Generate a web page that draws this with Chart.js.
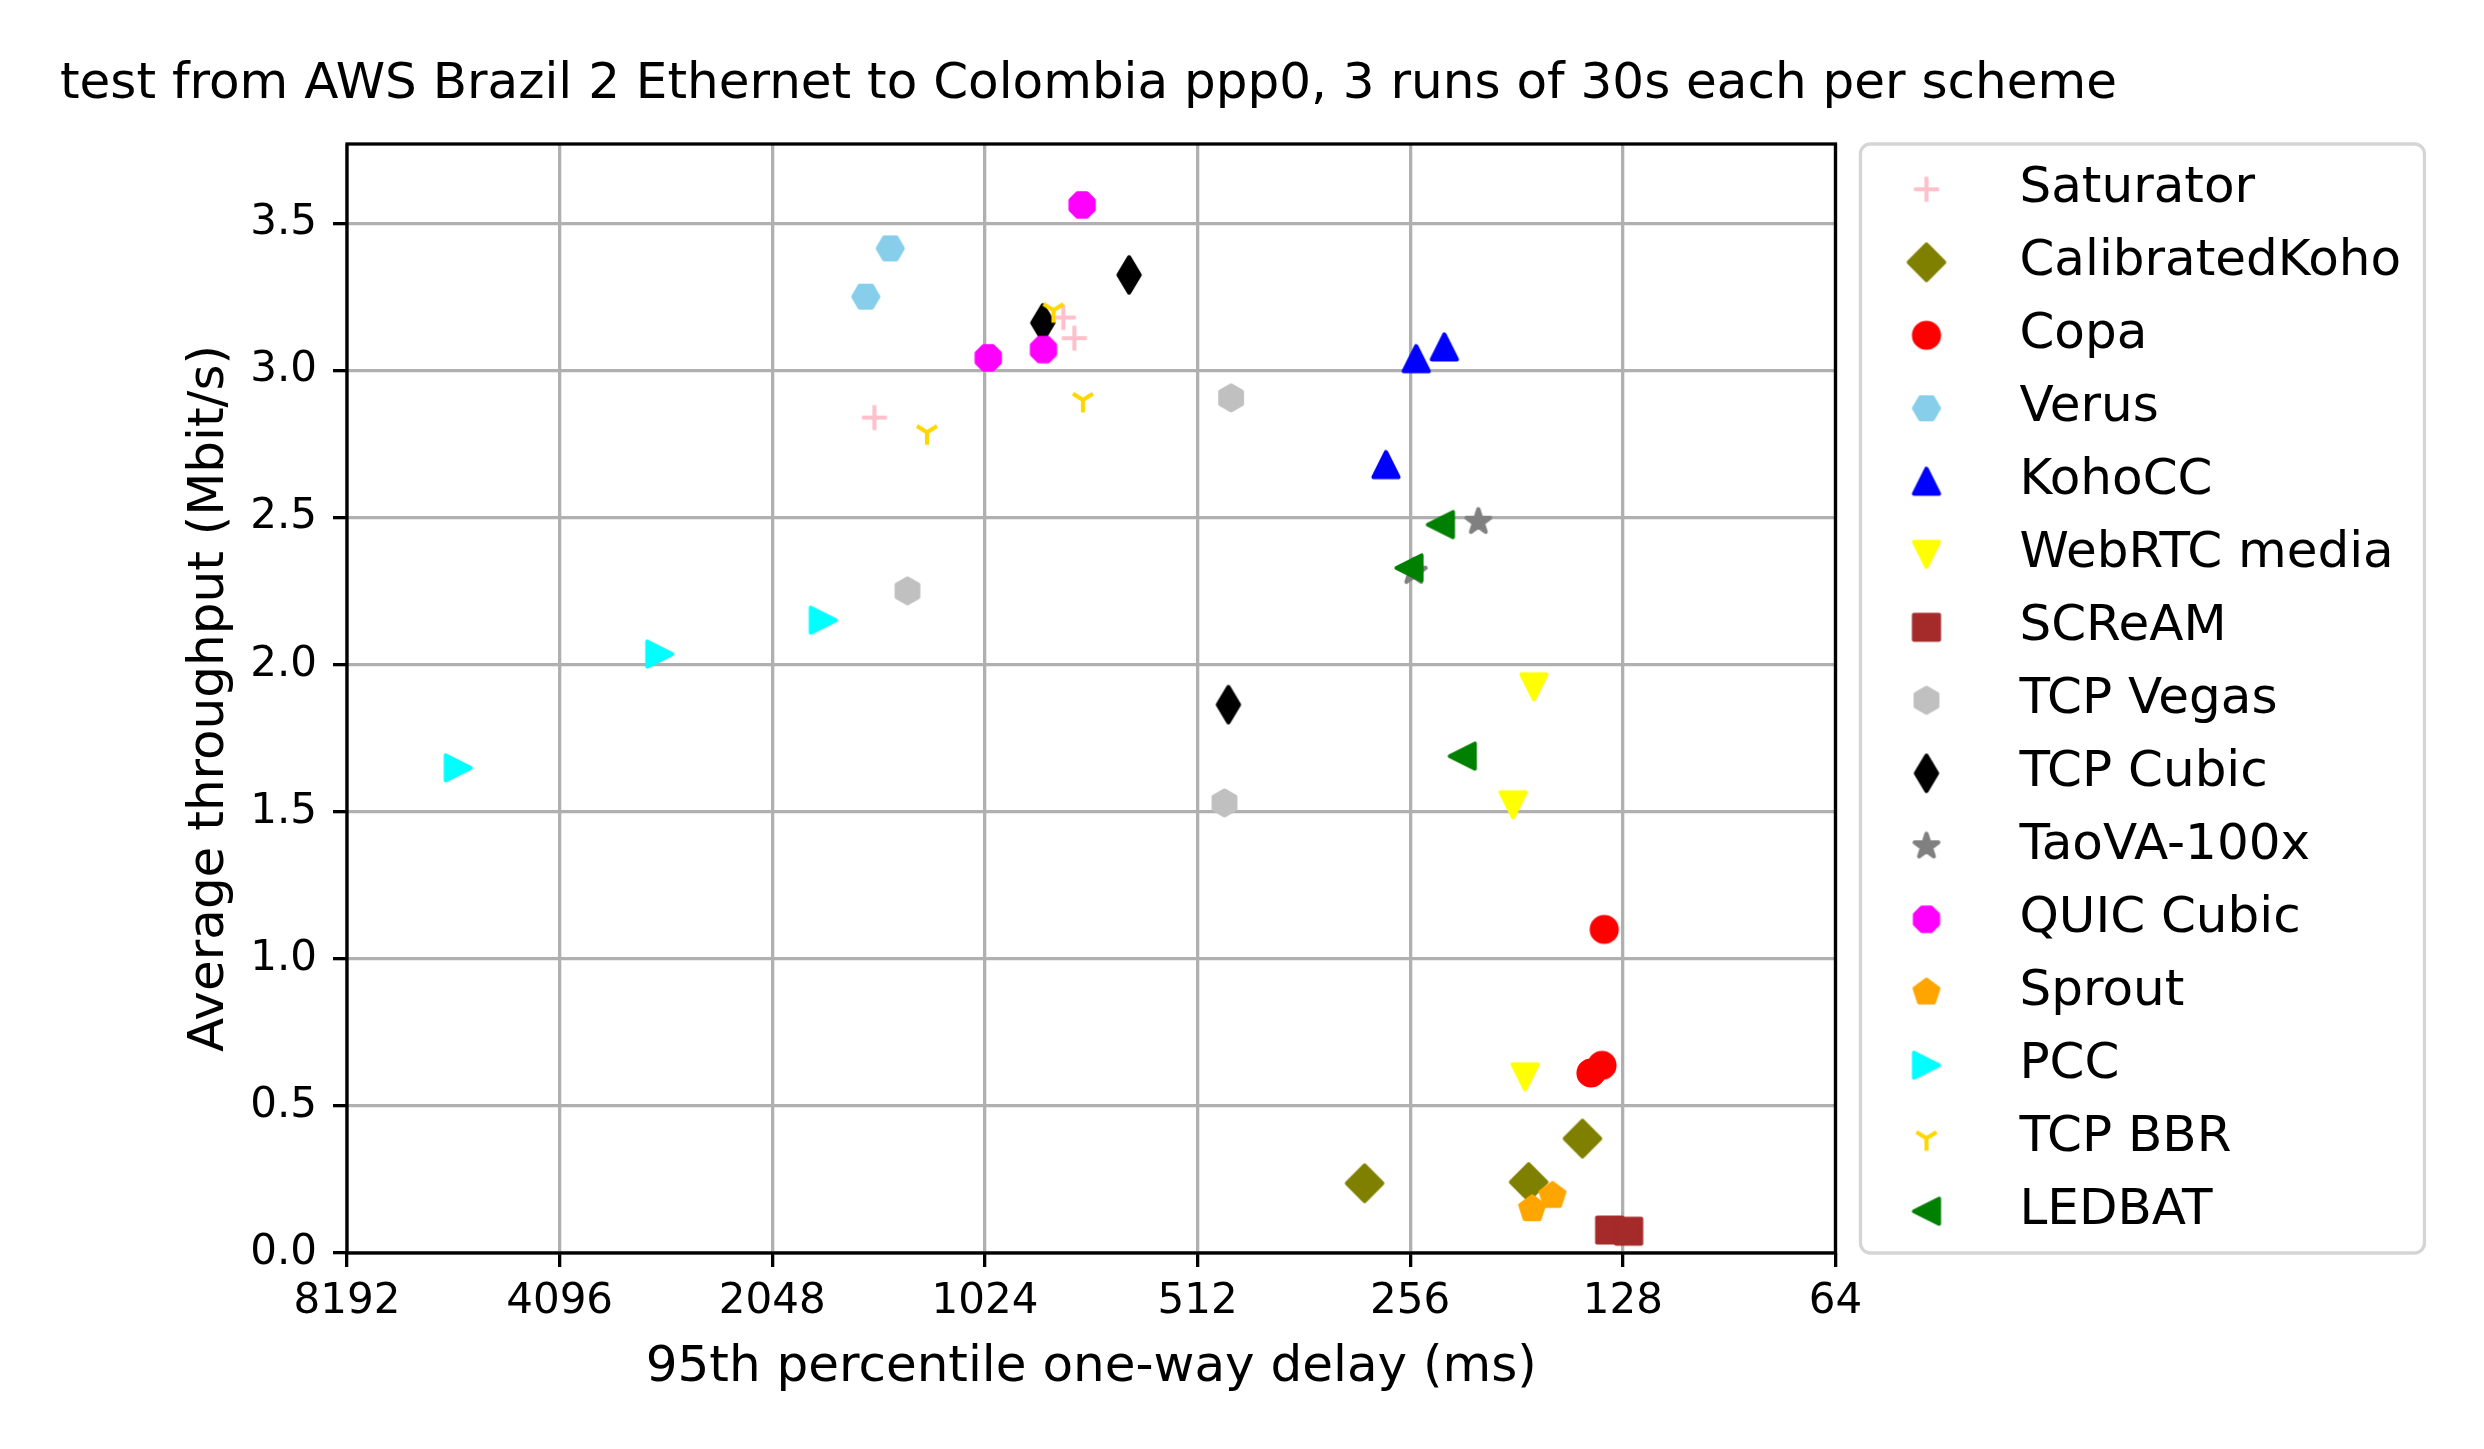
<!DOCTYPE html>
<html>
<head>
<meta charset="utf-8">
<title>Delay vs throughput</title>
<script src="https://cdn.jsdelivr.net/npm/chart.js@4.4.0/dist/chart.umd.min.js"></script>
<style>
  html, body { margin: 0; padding: 0; background: #fff; }
  #wrap { width: 2484px; height: 1449px; }
</style>
</head>
<body>
<div id="wrap"><canvas id="chart"></canvas></div>
<script>
// chart data
const chartTitle = "test from AWS Brazil 2 Ethernet to Colombia ppp0, 3 runs of 30s each per scheme";
const xLabel = "95th percentile one-way delay (ms)";
const yLabel = "Average throughput (Mbit/s)";
const xTicks = [8192, 4096, 2048, 1024, 512, 256, 128, 64];
const yMax = 3.77;

const schemes = ["Saturator", "CalibratedKoho", "Copa", "Verus", "KohoCC", "WebRTC media", "SCReAM",
    "TCP Vegas", "TCP Cubic", "TaoVA-100x", "QUIC Cubic", "Sprout", "PCC", "TCP BBR", "LEDBAT"];

// delay in ms, throughput in Mbit/s (one value per run)
const saturatorDelay = [1468, 793, 765];
const saturatorTput = [2.84, 3.18, 3.11];
const calibratedKohoDelay = [297, 174, 146];
const calibratedKohoTput = [0.237, 0.241, 0.389];
const copaDelay = [136, 137, 142];
const copaTput = [1.10, 0.638, 0.612];
const verusDelay = [1394, 1510];
const verusTput = [3.415, 3.251];
const kohoCCDelay = [251, 229, 277];
const kohoCCTput = [3.04, 3.08, 2.68];
const webrtcDelay = [171, 183, 176];
const webrtcTput = [1.925, 1.524, 0.599];
const screamDelay = [133.6, 125.6];
const screamTput = [0.078, 0.074];
const vegasDelay = [1318, 459, 469];
const vegasTput = [2.251, 2.907, 1.530];
const cubicDelay = [640, 848, 463];
const cubicTput = [3.325, 3.162, 1.864];
const taovaDelay = [205, 253];
const taovaTput = [2.486, 2.316];
const quicDelay = [746, 1013, 846];
const quicTput = [3.563, 3.043, 3.071];
const sproutDelay = [161, 172];
const sproutTput = [0.195, 0.150];
const pccDelay = [5700, 2955, 1734];
const pccTput = [1.649, 2.036, 2.151];
const bbrDelay = [819, 1237, 744];
const bbrTput = [3.205, 2.79, 2.90];
const ledbatDelay = [232, 257, 216];
const ledbatTput = [2.476, 2.329, 1.689];

const delays = [saturatorDelay, calibratedKohoDelay, copaDelay, verusDelay, kohoCCDelay, webrtcDelay, screamDelay,
    vegasDelay, cubicDelay, taovaDelay, quicDelay, sproutDelay, pccDelay, bbrDelay, ledbatDelay];
const tputs = [saturatorTput, calibratedKohoTput, copaTput, verusTput, kohoCCTput, webrtcTput, screamTput,
    vegasTput, cubicTput, taovaTput, quicTput, sproutTput, pccTput, bbrTput, ledbatTput];

const colors = ["pink", "olive", "red", "skyblue", "blue", "yellow", "brown",
    "silver", "black", "gray", "magenta", "orange", "cyan", "gold", "green"];
const markers = ["+", "D", "o", "H", "^", "v", "s", "h", "d", "*", "8", "p", ">", "1", "<"];

// marker size in px (6pt at 300 dpi) and edge width (1pt)
const MS = 25;
const EW = 4.17;

function regularPolygon(n, r, rotDeg, innerRatio) {
    const pts = [];
    const count = innerRatio ? n * 2 : n;
    for (let i = 0; i < count; i++) {
        const a = (-90 - rotDeg + i * 360 / count) * Math.PI / 180;
        const rr = innerRatio && i % 2 ? r * innerRatio : r;
        pts.push([rr * Math.cos(a), rr * Math.sin(a)]);
    }
    return pts;
}

// draws a matplotlib-like marker onto a small canvas
function makeMarker(shape, color) {
    const size = 56;
    const c = document.createElement("canvas");
    c.width = size;
    c.height = size;
    const ctx = c.getContext("2d");
    ctx.translate(size / 2, size / 2);
    ctx.fillStyle = color;
    ctx.strokeStyle = color;
    ctx.lineWidth = EW;
    ctx.lineJoin = "round";
    const h = MS / 2;
    let pts = null;

    if (shape === "+" || shape === "1") {
        ctx.beginPath();
        if (shape === "+") {
            ctx.moveTo(-h, 0); ctx.lineTo(h, 0);
            ctx.moveTo(0, -h); ctx.lineTo(0, h);
        } else {
            ctx.moveTo(0, 0); ctx.lineTo(0, h);
            ctx.moveTo(0, 0); ctx.lineTo(0.8 * h, -0.5 * h);
            ctx.moveTo(0, 0); ctx.lineTo(-0.8 * h, -0.5 * h);
        }
        ctx.stroke();
        return c;
    }
    if (shape === "o") {
        ctx.beginPath();
        ctx.arc(0, 0, h, 0, Math.PI * 2);
        ctx.fill();
        ctx.stroke();
        return c;
    }
    const dg = MS / Math.SQRT2;
    if (shape === "D") pts = [[0, -dg], [dg, 0], [0, dg], [-dg, 0]];
    if (shape === "d") pts = [[0, -dg], [0.6 * dg, 0], [0, dg], [-0.6 * dg, 0]];
    if (shape === "s") pts = [[-h, -h], [h, -h], [h, h], [-h, h]];
    if (shape === "^") pts = [[0, -h], [h, h], [-h, h]];
    if (shape === "v") pts = [[0, h], [h, -h], [-h, -h]];
    if (shape === "<") pts = [[-h, 0], [h, -h], [h, h]];
    if (shape === ">") pts = [[h, 0], [-h, -h], [-h, h]];
    if (shape === "h") pts = regularPolygon(6, h, 0);
    if (shape === "H") pts = regularPolygon(6, h, 30);
    if (shape === "8") pts = regularPolygon(8, h, 22.5);
    if (shape === "p") pts = regularPolygon(5, h, 0);
    if (shape === "*") pts = regularPolygon(5, h, 0, 0.381966);

    ctx.beginPath();
    pts.forEach((p, i) => i ? ctx.lineTo(p[0], p[1]) : ctx.moveTo(p[0], p[1]));
    ctx.closePath();
    ctx.fill();
    ctx.stroke();
    return c;
}

const datasets = schemes.map((name, i) => ({
    label: name,
    data: delays[i].map((d, j) => ({ x: d, y: tputs[i][j] })),
    pointStyle: makeMarker(markers[i], colors[i]),
    pointRadius: 12,
    backgroundColor: colors[i],
    borderColor: colors[i],
    order: -i  // later schemes drawn on top, like matplotlib
}));

const fontFamily = "'DejaVu Sans', sans-serif";

// white page, legend frame and the axes box
const decorPlugin = {
    id: "decor",
    beforeDraw(chart) {
        const { ctx, chartArea } = chart;
        ctx.save();
        ctx.fillStyle = "#fff";
        ctx.fillRect(0, 0, chart.width, chart.height);
        ctx.strokeStyle = "#d5d5d5";
        ctx.lineWidth = 3.3;
        ctx.beginPath();
        ctx.roundRect(chartArea.right + 25, chartArea.top, 564, chartArea.bottom - chartArea.top, 10);
        ctx.stroke();
        ctx.restore();
    },
    afterDatasetsDraw(chart) {
        const { ctx, chartArea } = chart;
        ctx.save();
        ctx.strokeStyle = "#000";
        ctx.lineWidth = 3.3;
        ctx.strokeRect(chartArea.left, chartArea.top, chartArea.right - chartArea.left, chartArea.bottom - chartArea.top);
        ctx.restore();
    }
};

const gridStyle = {
    color: "#b0b0b0",
    lineWidth: 3.3,
    tickColor: "#000",
    tickLength: 14,
    tickWidth: 3.3
};

new Chart(document.getElementById("chart"), {
    type: "scatter",
    data: { datasets: datasets },
    plugins: [decorPlugin],
    options: {
        responsive: true,
        maintainAspectRatio: false,
        animation: false,
        events: [],
        layout: { padding: { top: 0, right: 73, bottom: 48.4, left: 60 } },
        scales: {
            x: {
                type: "logarithmic",
                min: 64,
                max: 8192,
                reverse: true,
                afterBuildTicks: (scale) => {
                    scale.ticks = xTicks.map(v => ({ value: v }));
                },
                afterFit: (scale) => { scale.height = 147.6; },
                ticks: {
                    autoSkip: false,
                    maxRotation: 0,
                    padding: 10,
                    color: "#000",
                    font: { family: fontFamily, size: 42 },
                    callback: (value) => String(value)
                },
                grid: gridStyle,
                border: { display: false },
                title: {
                    display: true,
                    text: xLabel,
                    color: "#000",
                    font: { family: fontFamily, size: 50 },
                    padding: { top: 0, bottom: 3 }
                }
            },
            y: {
                min: 0,
                max: yMax,
                afterFit: (scale) => { scale.width = 287; },
                ticks: {
                    stepSize: 0.5,
                    includeBounds: false,
                    padding: 16,
                    color: "#000",
                    font: { family: fontFamily, size: 42 },
                    callback: (value) => value.toFixed(1)
                },
                grid: gridStyle,
                border: { display: false },
                title: {
                    display: true,
                    text: yLabel,
                    color: "#000",
                    font: { family: fontFamily, size: 50 },
                    padding: { top: 120, bottom: 0 }
                }
            }
        },
        plugins: {
            tooltip: { enabled: false },
            title: {
                display: true,
                text: chartTitle,
                align: "start",
                color: "#000",
                font: { family: fontFamily, size: 50, weight: "normal" },
                padding: { top: 55, bottom: 29 }
            },
            legend: {
                position: "right",
                maxWidth: 578,
                labels: {
                    usePointStyle: true,
                    pointStyleWidth: 136,
                    padding: 23,
                    color: "#000",
                    font: { family: fontFamily, size: 50 },
                    sort: (a, b) => a.datasetIndex - b.datasetIndex
                }
            }
        }
    }
});
</script>
</body>
</html>
